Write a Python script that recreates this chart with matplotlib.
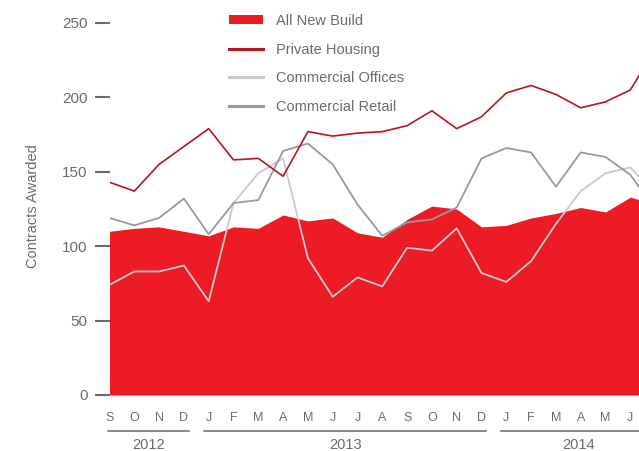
# Contracts awarded by sector, Sep 2012 - Jul 2014
import matplotlib.pyplot as plt
from matplotlib.patches import Patch
from matplotlib.lines import Line2D

plt.rcParams["font.family"] = ["Liberation Sans", "DejaVu Sans"]

# month index 0 = Sep 2012 ... 22 = Jul 2014 (last one is cut off by the frame)
months = ["S", "O", "N", "D",
          "J", "F", "M", "A", "M", "J", "J", "A", "S", "O", "N", "D",
          "J", "F", "M", "A", "M", "J", "J"]
years = ["2012", "2013", "2014"]
year_breaks = [-0.35, 3.5, 15.5, 22.3]

all_new_build = [110, 112, 113, 110, 107, 113, 112, 121, 117, 119, 109,
                 106, 118, 127, 125, 113, 114, 119, 122, 126, 123, 133, 128]
private_housing = [143, 137, 155, 167, 179, 158, 159, 147, 177, 174, 176,
                   177, 181, 191, 179, 187, 203, 208, 202, 193, 197, 205, 232]
commercial_offices = [74, 83, 83, 87, 63, 129, 149, 159, 92, 66, 79,
                      73, 99, 97, 112, 82, 76, 90, 115, 137, 149, 153, 135]
commercial_retail = [119, 114, 119, 132, 108, 129, 131, 164, 169, 155, 128,
                     107, 116, 118, 126, 159, 166, 163, 140, 163, 160, 148, 125]

red = "#ed1c24"
dark_red = "#b8161e"
light_grey = "#c9c9ce"
mid_grey = "#9a98a0"
text_col = "#6d6975"
tick_col = "#6b6773"

fig = plt.figure(figsize=(6.39, 4.51), dpi=100)
ax = fig.add_axes([109.5 / 639, 56 / 451, 529.5 / 639, 395 / 451])

x = list(range(len(months)))
ax.fill_between(x, 0, all_new_build, color=red, linewidth=0, zorder=1)
ax.plot(x, private_housing, color=dark_red, lw=1.2, zorder=3)
ax.plot(x, commercial_offices, color=light_grey, lw=1.3, zorder=2)
ax.plot(x, commercial_retail, color=mid_grey, lw=1.3, zorder=2)

for s in ax.spines.values():
    s.set_visible(False)

ax.set_yticks([0, 50, 100, 150, 200, 250])
ax.tick_params(axis="y", length=10.8, width=1.5, color=tick_col, pad=5,
               labelsize=11, labelcolor=text_col)
ax.set_xticks(x)
ax.set_xticklabels(months)
ax.tick_params(axis="x", length=0, pad=12, labelsize=9, labelcolor=text_col)

ax.set_ylabel("Contracts Awarded", fontsize=10.5, color=text_col)
ax.yaxis.set_label_coords(-0.131, 0.478)

# year brackets under the month letters
trans = ax.get_xaxis_transform()
for i, yr in enumerate(years):
    x0 = year_breaks[i] + 0.3
    x1 = year_breaks[i + 1] - 0.3
    ax.plot([x0, x1], [-0.0904, -0.0904], transform=trans, color=tick_col,
            lw=1.1, clip_on=False, scalex=False, scaley=False)
    ax.text((x0 + x1) / 2, -0.1266, yr, transform=trans, ha="center",
            va="center", fontsize=10.5, color=text_col)

ax.set_xlim(0, 21.35)
ax.set_ylim(0, 395 / 1.488)

handles = [Patch(facecolor=red, edgecolor="none"),
           Line2D([], [], color=dark_red, lw=2.2),
           Line2D([], [], color=light_grey, lw=2.2),
           Line2D([], [], color=mid_grey, lw=2.2)]
labels = ["All New Build", "Private Housing", "Commercial Offices", "Commercial Retail"]
leg = fig.legend(handles, labels, loc="upper left",
                 bbox_to_anchor=(229 / 639, 1 - 14.0 / 451), frameon=False,
                 fontsize=10.5, handlelength=2.33, handleheight=0.55,
                 handletextpad=0.9, labelspacing=1.0, borderpad=0,
                 borderaxespad=0)
for t in leg.get_texts():
    t.set_color(text_col)

fig.savefig("out.png", dpi=100)
